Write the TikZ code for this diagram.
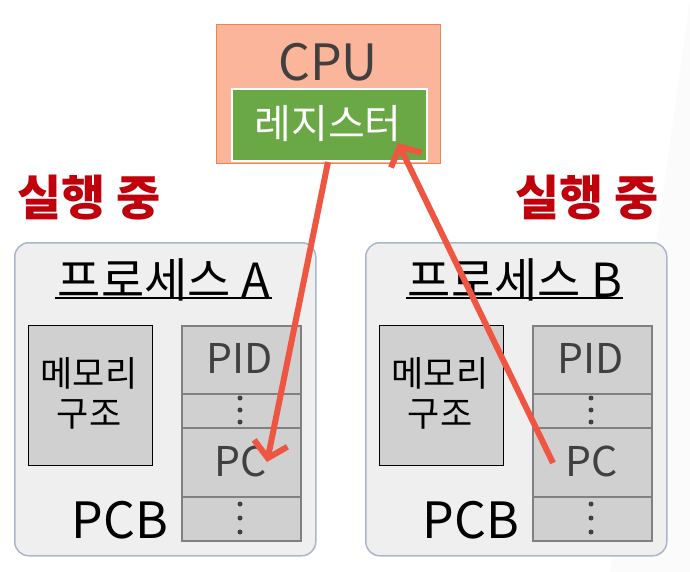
\documentclass[tikz,border=0pt]{standalone}
\usepackage{fontspec}
\setmainfont{Noto Sans CJK KR}
\usetikzlibrary{arrows.meta}
\definecolor{cpufill}{RGB}{251,181,155}
\definecolor{cpuline}{RGB}{240,130,80}
\definecolor{reggreen}{RGB}{106,168,70}
\definecolor{arrowred}{RGB}{238,86,66}
\definecolor{runred}{RGB}{192,0,10}
\definecolor{procfill}{RGB}{239,239,239}
\definecolor{procline}{RGB}{170,182,202}
\definecolor{cellfill}{RGB}{208,208,208}
\definecolor{cellline}{RGB}{128,128,128}
\definecolor{darktext}{RGB}{64,64,64}
\tikzset{
  procbox/.style={draw=procline, line width=1.5pt, fill=procfill, rounded corners=14pt},
  membox/.style={draw=black, line width=1pt, fill=cellfill},
  cellbox/.style={draw=cellline, line width=1.5pt, fill=cellfill},
  runlabel/.style={text=runred, font=\fontsize{48}{52}\selectfont\bfseries, inner sep=0pt},
  celltext/.style={text=darktext, font=\fontsize{41}{44}\selectfont, inner sep=0pt},
  bigarrow/.style={draw=arrowred, line width=6pt, -{Straight Barb[length=15pt, width=34pt, line width=6pt]}},
  dotty/.style={fill=darktext, circle, inner sep=0pt, minimum size=5pt}
}
\begin{document}
\begin{tikzpicture}[x=1pt, y=-1pt]
\useasboundingbox (0,0) rectangle (690,572);
\fill[white] (0,0) rectangle (690,572);
\fill[gray!3] (690,0) -- (690,572) -- (610,572) -- cycle;

% CPU
\node[draw=cpuline, line width=1pt, fill=cpufill, minimum width=224pt, minimum height=139pt, anchor=north west, inner sep=0pt] (cpu) at (216,24) {};
\node[text=darktext, font=\fontsize{50}{54}\selectfont, inner sep=0pt] (cputext) at (328,62) {CPU};
\node[draw=white, line width=2pt, fill=reggreen, minimum width=195pt, minimum height=72pt, anchor=north west, inner sep=0pt] (reg) at (231,88) {};
\node[text=white, font=\fontsize{40}{44}\selectfont, inner sep=0pt] (regtext) at (328,124) {레지스터};

% running labels
\node[runlabel] (runA) at (89,198) {실행 중};
\node[runlabel] (runB) at (587,198) {실행 중};

% Process boxes
\foreach \n/\ox/\lbl in {A/0/A, B/351/B}{
  \begin{scope}[xshift=\ox pt]
  \node[procbox, minimum width=301pt, minimum height=313pt, anchor=north west, inner sep=0pt] (proc\n) at (14,242) {};
  \node[font=\fontsize{47}{50}\selectfont, inner sep=0pt] (title\n) at (164,280) {프로세스 \lbl};
  \draw[line width=1.5pt] (55,298) -- (272,298);
  \node[membox, minimum width=124pt, minimum height=140pt, anchor=north west, inner sep=0pt] (mem\n) at (28,325) {};
  \node[font=\fontsize{35}{40}\selectfont, align=center, inner sep=0pt] (memtext\n) at (89,393) {메모리\\구조};
  \node[cellbox, minimum width=119pt, minimum height=68pt, anchor=north west, inner sep=0pt] (pid\n) at (181,325) {};
  \node[cellbox, minimum width=119pt, minimum height=34pt, anchor=north west, inner sep=0pt] (d1\n) at (181,393) {};
  \node[cellbox, minimum width=119pt, minimum height=69pt, anchor=north west, inner sep=0pt] (pc\n) at (181,427) {};
  \node[cellbox, minimum width=119pt, minimum height=44pt, anchor=north west, inner sep=0pt] (d2\n) at (181,496) {};
  \node[celltext] at (240,358) {PID};
  \node[celltext] (pctext\n) at (241,461) {PC};
  \node[dotty] at (240,398) {};
  \node[dotty] at (240,410) {};
  \node[dotty] at (240,422) {};
  \node[dotty] at (240,504) {};
  \node[dotty] at (240,518) {};
  \node[dotty] at (240,532) {};
  \node[font=\fontsize{50}{54}\selectfont, inner sep=0pt] (pcb\n) at (120,520) {PCB};
  \end{scope}
}

% Arrows
\coordinate (aStart) at (328,162);
\coordinate (aEnd) at (267,462);
\coordinate (bStart) at (553,463);
\coordinate (bEnd) at (398,143);
\draw[bigarrow] (aStart) -- (aEnd);
\draw[bigarrow] (bStart) -- (bEnd);
\end{tikzpicture}
\end{document}
